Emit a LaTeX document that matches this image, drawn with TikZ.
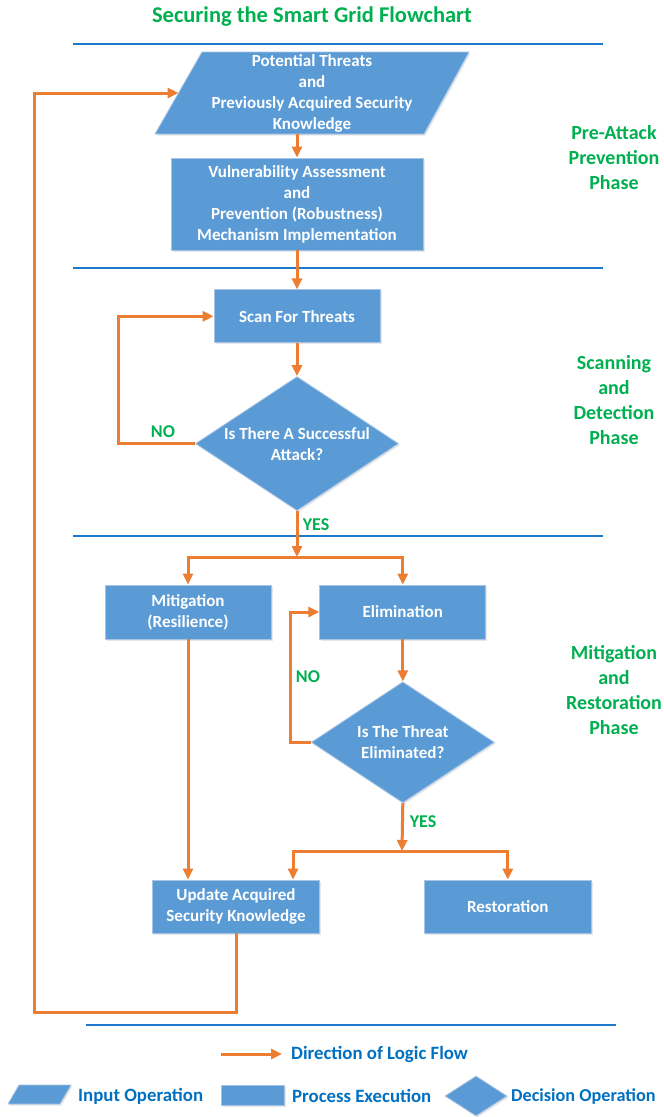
\documentclass[tikz,border=0pt]{standalone}
\usepackage{fontspec}
\setmainfont{Carlito}
\usepackage{tikz}
\usepackage{xcolor}
\usetikzlibrary{arrows.meta,positioning}
\usetikzlibrary{shapes.geometric,shadows}

\definecolor{boxblue}{RGB}{91,155,213}
\definecolor{boxrim}{RGB}{165,196,230}
\definecolor{floworange}{RGB}{237,125,49}
\definecolor{phasegreen}{RGB}{0,176,80}
\definecolor{ruleblue}{RGB}{30,120,205}
\definecolor{legendblue}{RGB}{0,112,192}

\begin{document}
\begin{tikzpicture}[x=1pt,y=-1pt,>={Triangle[length=11pt,width=10pt]},
    inshape/.style={fill=boxblue,draw=boxrim,line width=0.8pt,
      drop shadow={opacity=0.2,shadow xshift=1.5pt,shadow yshift=-1.5pt}},
    boxtext/.style={text=white,align=center,inner sep=0pt,
      font=\bfseries\fontsize{17}{21}\selectfont},
    process/.style={inshape,boxtext,rectangle},
    decision/.style={inshape,boxtext,diamond,aspect=1.51},
    flowline/.style={draw=floworange,line width=3pt},
    sepline/.style={draw=ruleblue,line width=1.5pt},
    phase/.style={text=phasegreen,align=center,font=\bfseries\fontsize{20}{25}\selectfont},
    answer/.style={text=phasegreen,inner sep=0pt,font=\bfseries\fontsize{18}{21}\selectfont},
    legend/.style={text=legendblue,anchor=west,inner sep=0pt,font=\bfseries\fontsize{18.8}{22}\selectfont}]

  \useasboundingbox (0,0) rectangle (664,1117);

  \node[text=phasegreen,font=\bfseries\fontsize{22.5}{27}\selectfont] (title) at (312,17) {Securing the Smart Grid Flowchart};

  \draw[sepline] (73,44) -- (603,44);
  \draw[sepline] (73,268) -- (603,268);
  \draw[sepline] (73,536) -- (603,536);
  \draw[sepline] (86,1025) -- (616,1025);

  \path[inshape] (202,52) -- (469,52) -- (424,134) -- (155,134) -- cycle;
  \node[boxtext] (threats) at (312,93) {Potential Threats\\and\\Previously Acquired Security\\Knowledge};
  \coordinate (threats-s) at (297,134);
  \coordinate (threats-w) at (178.5,93);

  \node[process,minimum width=252pt,minimum height=92pt] (vuln) at (297,204) {Vulnerability Assessment\\and\\Prevention (Robustness)\\Mechanism Implementation};
  \node[process,minimum width=166pt,minimum height=53pt,below=39pt of vuln] (scan) {Scan For Threats};
  \node[decision,minimum width=203pt,minimum height=134pt,below=33pt of scan] (attack) {Is There A Successful\\Attack?};

  \node[process,minimum width=166pt,minimum height=54pt] (mitig) at (188,612) {Mitigation\\(Resilience)};
  \node[process,minimum width=166pt,minimum height=54pt,right=48pt of mitig] (elim) {Elimination};
  \node[decision,minimum width=183pt,minimum height=121pt,below=42pt of elim] (threat) {Is The Threat\\Eliminated?};

  \node[process,minimum width=167pt,minimum height=53pt] (update) at (236,906.5) {Update Acquired\\Security Knowledge};
  \node[process,minimum width=167pt,minimum height=53pt,right=104pt of update] (restor) {Restoration};

  \node[phase] (prephase) at (614,158) {Pre-Attack\\Prevention\\Phase};
  \node[phase] (scanphase) at (614,400.5) {Scanning\\and\\Detection\\Phase};
  \node[phase] (mitphase) at (614,690.5) {Mitigation\\and\\Restoration\\Phase};

  \coordinate (fork1) at (297,557);
  \coordinate (fork2) at (402,851);
  \coordinate (back) at (34,1012);

  \draw[flowline,->] (threats-s) -- (vuln.north);
  \draw[flowline,->] (vuln.south) -- (scan.north);
  \draw[flowline,->] (scan.south) -- (attack.north);
  \draw[flowline,->] (attack.west) -- ++(-77,0) |- (scan.west);
  \draw[flowline,->] (attack.south) -- (fork1);
  \draw[flowline,->] (fork1) -| (mitig.north);
  \draw[flowline,->] (fork1) -| (elim.north);
  \draw[flowline,->] (elim.south) -- (threat.north);
  \draw[flowline,->] (threat.west) -- ++(-20,0) |- (elim.west);
  \draw[flowline,->] (threat.south) -- (fork2);
  \draw[flowline,->] (fork2) -| ([xshift=57pt]update.north);
  \draw[flowline,->] (fork2) -| (restor.north);
  \draw[flowline,->] (mitig.south) -- (mitig.south |- update.north);
  \draw[flowline,->] (update.south) |- (back) |- (threats-w);

  \node[answer] (no1) at (163,432) {NO};
  \node[answer] (yes1) at (316,525) {YES};
  \node[answer] (no2) at (308,677) {NO};
  \node[answer] (yes2) at (423,822) {YES};

  \node[legend] (leg-flow) at (291,1054) {Direction of Logic Flow};
  \draw[flowline,->] ([xshift=-70pt]leg-flow.west) -- ([xshift=-9pt]leg-flow.west);

  \path[inshape] (19,1085) -- (71,1085) -- (60,1104) -- (8,1104) -- cycle;
  \node[legend] (leg-input) at (78,1096) {Input Operation};
  \node[process,minimum width=63pt,minimum height=20pt] (leg-proc) at (252.5,1095) {};
  \node[legend] (leg-proctext) at (292,1096) {Process Execution};
  \node[decision,minimum width=62pt,minimum height=40pt] (leg-dec) at (476,1096) {};
  \node[legend,font=\bfseries\fontsize{18.2}{22}\selectfont] (leg-dectext) at (511,1097) {Decision Operation};
\end{tikzpicture}
\end{document}
